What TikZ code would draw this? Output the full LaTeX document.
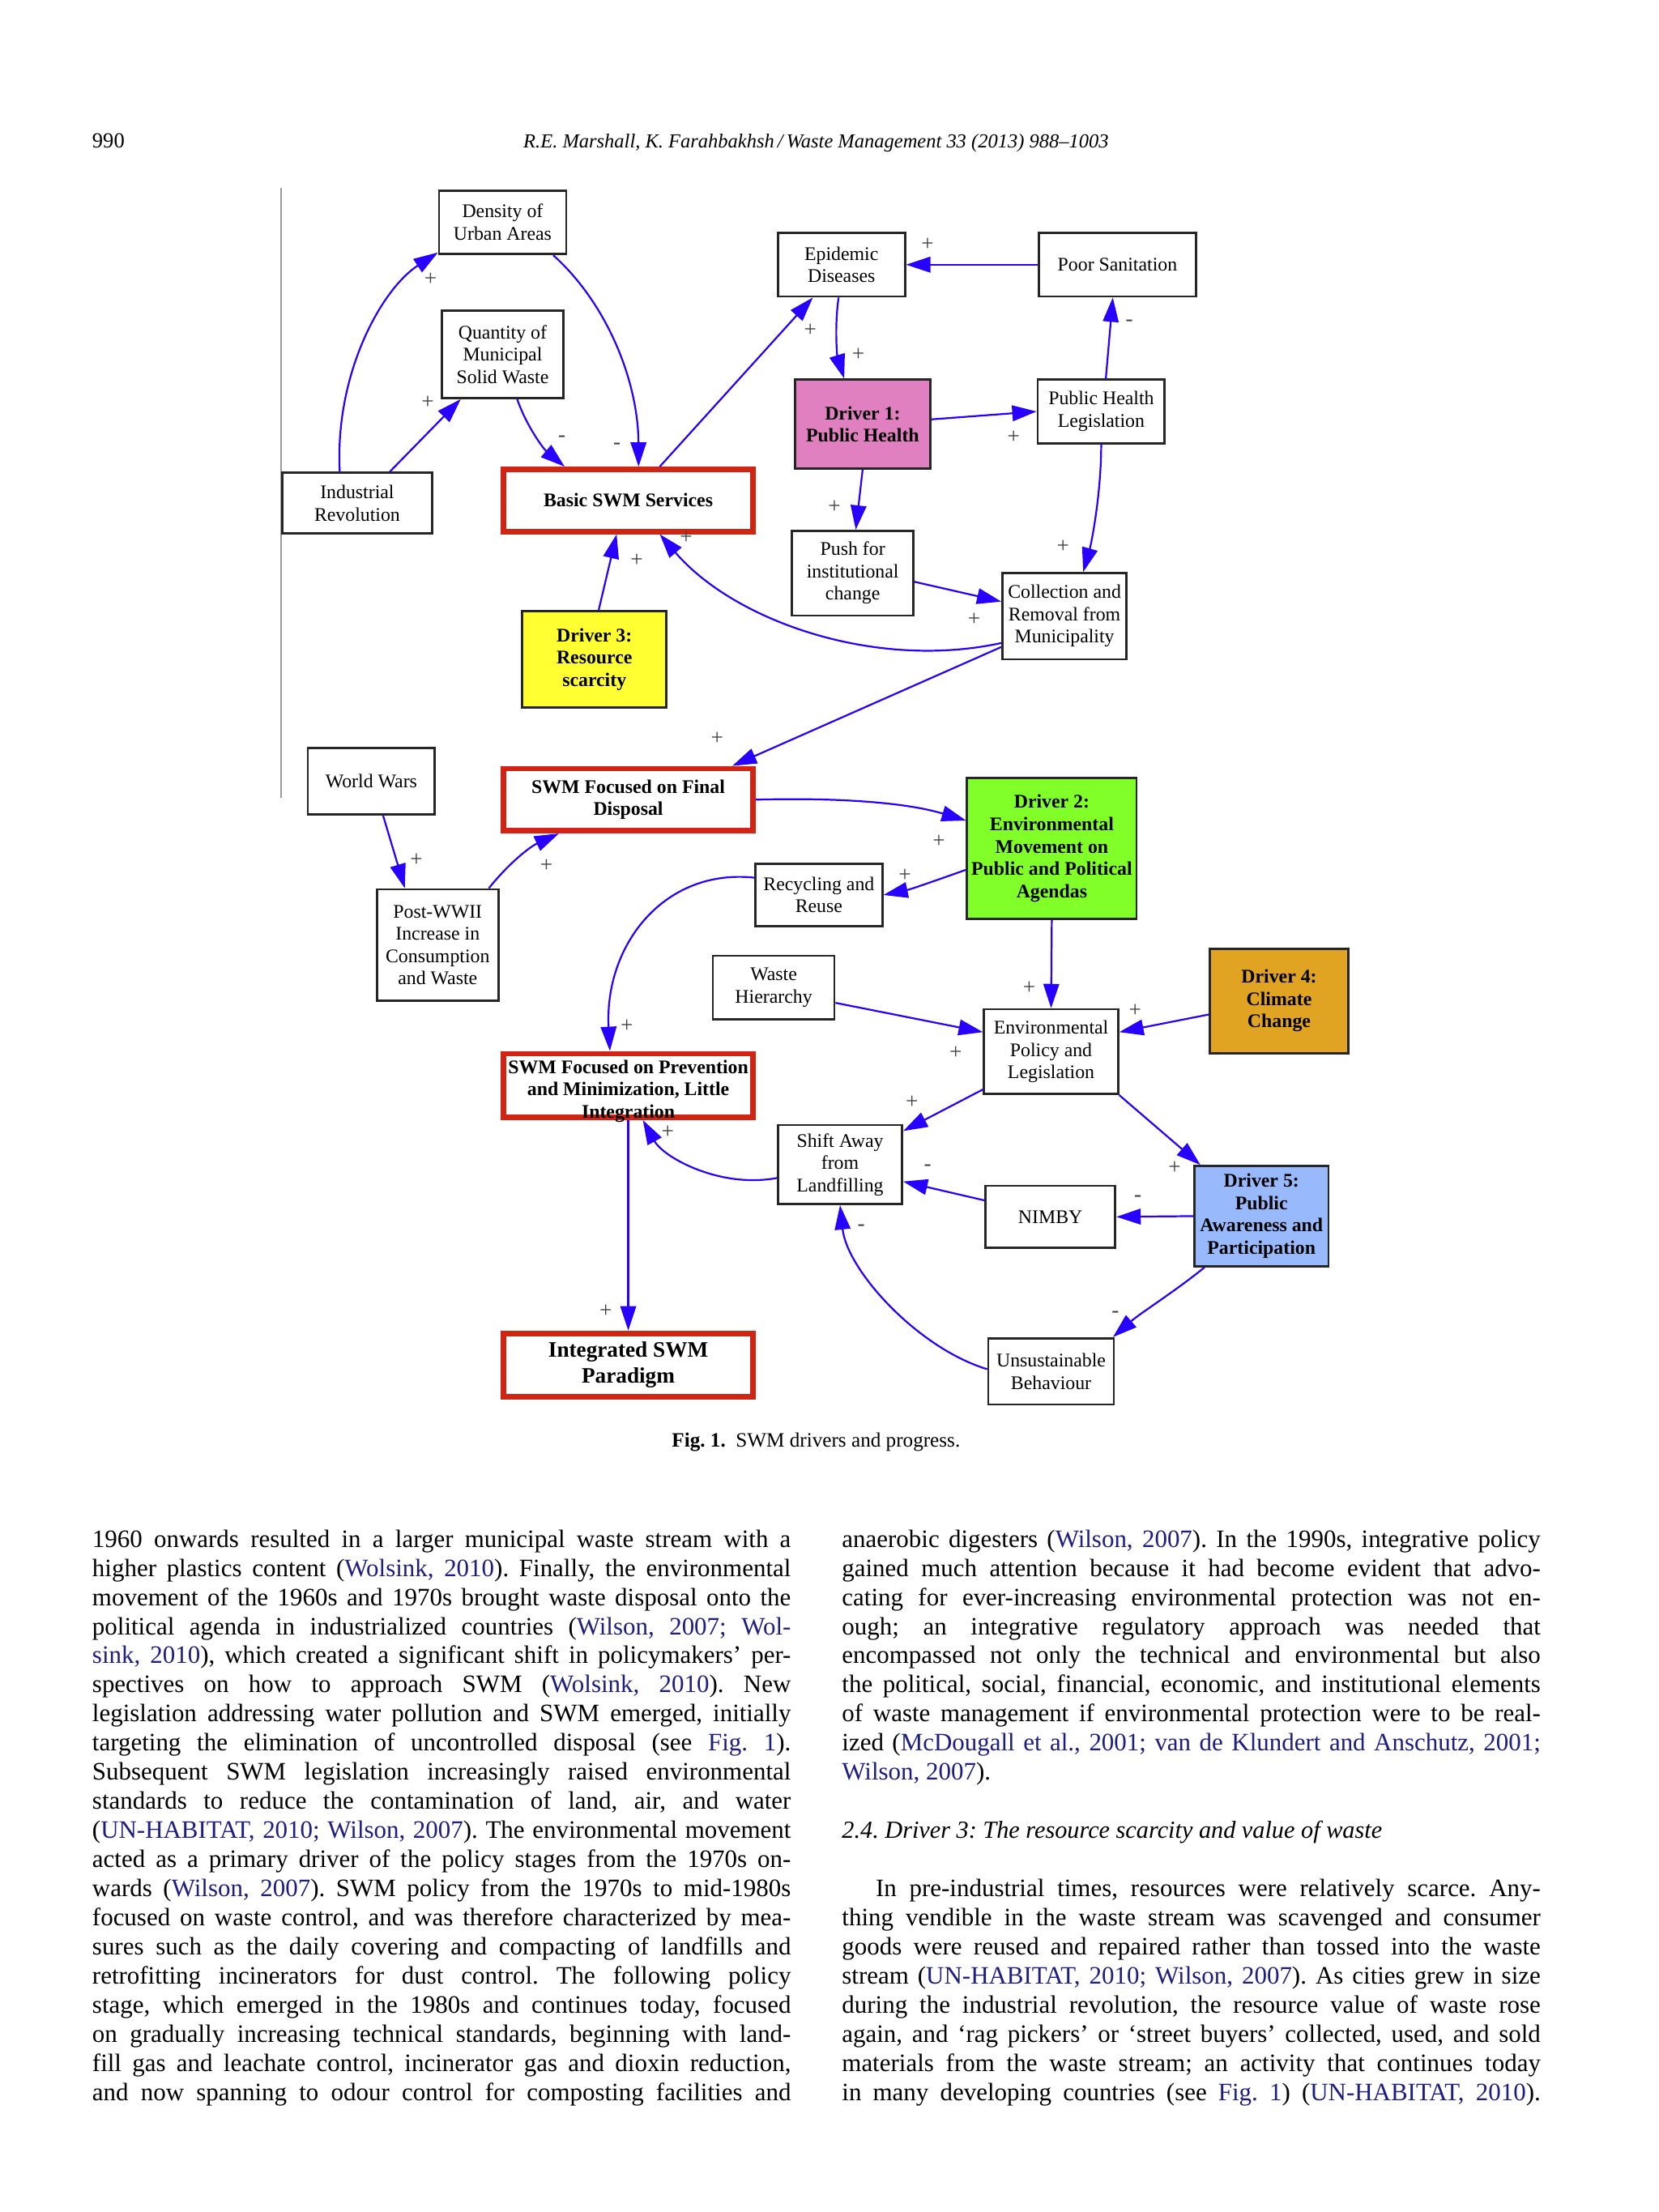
\documentclass[tikz,border=0pt]{standalone}
\usepackage{fontspec}
\setmainfont{Liberation Serif}
\usetikzlibrary{arrows.meta}

\definecolor{lnkblue}{RGB}{40,0,255}
\definecolor{redbox}{RGB}{208,36,20}
\definecolor{drvpink}{RGB}{224,128,192}
\definecolor{drvyellow}{RGB}{255,255,50}
\definecolor{drvgreen}{RGB}{128,255,40}
\definecolor{drvorange}{RGB}{224,164,34}
\definecolor{drvblue}{RGB}{152,186,252}
\definecolor{citeblue}{RGB}{30,30,130}

\newlength{\colw}
\setlength{\colw}{8.91cm}
\newcommand{\jline}[1]{\hbox to \colw{#1}}
\newcommand{\lline}[1]{\hbox to \colw{#1\hfil}}
\newcommand{\cit}[1]{\textcolor{citeblue}{#1}}
\frenchspacing

\tikzset{
	box/.style={draw=black!85, line width=0.8pt, fill=white, align=center, inner sep=1pt, font=\fontsize{7}{8.1}\selectfont},
	driver/.style={box, font=\bfseries\fontsize{7}{8.1}\selectfont},
	stage/.style={box, draw=redbox, line width=2pt, font=\bfseries\fontsize{7}{8.1}\selectfont},
	sz/.style 2 args={minimum width=#1*0.018cm, minimum height=#2*0.018cm},
	lnk/.style={draw=lnkblue, line width=0.65pt, -{Triangle[length=0.31cm, width=0.2cm]}},
	sgn/.style={text=black!75, inner sep=0pt, font=\fontsize{8}{9}\selectfont},
	col/.style={anchor=base west, inner sep=0pt, font=\fontsize{9.1}{10.57}\selectfont}
}

\begin{document}
\begin{tikzpicture}[x=0.018cm, y=-0.018cm]
	\fill[white] (0,0) rectangle (1175,1567);
	\useasboundingbox (0,0) rectangle (1175,1567);

	% Cabecera
		\node[anchor=base west, inner sep=0pt, font=\fontsize{7.8}{9}\selectfont] (pg) at (65,105) {990};
		\node[anchor=base, inner sep=0pt, font=\itshape\fontsize{7.2}{9}\selectfont] (run) at (578,105) {R.E. Marshall, K. Farahbakhsh\,/\,Waste Management 33 (2013) 988–1003};
		\draw[black!40, line width=0.4pt] (199,133) -- (199,565);

	% Cajas
		% Etapa 1
			\node[box, sz={90}{45}] (dens) at (356,157.5) {Density of\\Urban Areas};
			\node[box, sz={86}{62}] (qty) at (356,251) {Quantity of\\Municipal\\Solid Waste};
			\node[box, sz={106}{43}] (ind) at (253,356.5) {Industrial\\Revolution};
			\node[stage, sz={177}{44}] (basic) at (445,354.5) {Basic SWM Services};
			\node[box, sz={90}{45}] (epi) at (596,187.5) {Epidemic\\Diseases};
			\node[box, sz={111}{45}] (poor) at (791.5,187.5) {Poor Sanitation};
			\node[driver, fill=drvpink, sz={96}{63}] (drv1) at (611,300.5) {Driver 1:\\Public Health};
			\node[box, sz={90}{45}] (phl) at (780,291.5) {Public Health\\Legislation};
			\node[box, sz={86}{60}] (push) at (604,406) {Push for\\institutional\\change};
			\node[box, sz={88}{61}] (coll) at (754,436.5) {Collection and\\Removal from\\Municipality};
			\node[driver, fill=drvyellow, sz={102}{68}] (drv3) at (421,467) {Driver 3:\\Resource\\scarcity};
		% Etapa 2
			\node[box, sz={90}{47}] (ww) at (263,553.5) {World Wars};
			\node[stage, sz={177}{44}] (final) at (445,566.5) {SWM Focused on Final\\Disposal};
			\node[driver, fill=drvgreen, sz={120}{100}] (drv2) at (745,601) {Driver 2:\\Environmental\\Movement on\\Public and Political\\Agendas};
			\node[box, sz={90}{44}] (recy) at (580,634) {Recycling and\\Reuse};
			\node[box, sz={86}{79}] (post) at (310,669.5) {Post-WWII\\Increase in\\Consumption\\and Waste};
			\node[box, sz={86}{45}] (hier) at (548,699.5) {Waste\\Hierarchy};
			\node[driver, fill=drvorange, sz={98}{74}] (drv4) at (906,709) {Driver 4:\\Climate\\Change};
			\node[box, sz={95}{60}] (envp) at (744.5,745) {Environmental\\Policy and\\Legislation};
		% Etapa 3
			\node[stage, sz={177}{45}] (prev) at (445,769) {};
			\node[align=center, inner sep=0pt, font=\bfseries\fontsize{7}{8.1}\selectfont] (prevtxt) at (445,773) {SWM Focused on Prevention\\and Minimization, Little\\Integration};
			\node[box, sz={88}{56}] (shift) at (595,825) {Shift Away\\from\\Landfilling};
			\node[box, sz={92}{44}] (nimby) at (744,862) {NIMBY};
			\node[driver, fill=drvblue, sz={95}{71}] (drv5) at (893.5,861.5) {Driver 5:\\Public\\Awareness and\\Participation};
			\node[box, sz={89}{47}] (unsus) at (744.5,971.5) {Unsustainable\\Behaviour};
			\node[stage, sz={177}{45}, font=\bfseries\fontsize{8}{9.3}\selectfont] (integ) at (445,967) {Integrated SWM\\Paradigm};

	% Flechas
		\draw[lnk] (ind.119) .. controls (237,265) and (270,205) .. (dens.205);
		\draw[lnk] (ind.44) -- (qty.227);
		\draw[lnk] (dens.327) .. controls (430,215) and (452,270) .. (basic.73);
		\draw[lnk] (qty.288) .. controls (373,302) and (385,318) .. (basic.152);
		\draw[lnk] (basic.47) -- (epi.229);
		\draw[lnk] (poor.west) -- (epi.east);
		\draw[lnk] (epi.265) .. controls (591,232) and (593,252) .. (drv1.112);
		\draw[lnk] (drv1.4) -- (phl.west);
		\draw[lnk] (phl.82) -- (poor.262);
		\draw[lnk] (drv1.south) -- (push.86);
		\draw[lnk] (phl.south) .. controls (780,350) and (773,385) .. (coll.67);
		\draw[lnk] (push.352) -- (coll.167);
		\draw[lnk] (coll.203) .. controls (620,475) and (520,440) .. (basic.313);
		\draw[lnk] (drv3.85) -- (basic.251);
		\draw[lnk] (coll.206) -- (final.18);
		\draw[lnk] (ww.289) -- (post.120);
		\draw[lnk] (post.48) .. controls (360,612) and (375,600) .. (final.206);
		\draw[lnk] (final.east) .. controls (590,565) and (640,568) .. (drv2.162);
		\draw[lnk] (drv2.194) .. controls (665,623) and (645,630) .. (recy.east);
		\draw[lnk] (recy.165) .. controls (470,615) and (428,670) .. (prev.118);
		\draw[lnk] (hier.346) -- (envp.164);
		\draw[lnk] (drv2.south) -- (envp.north);
		\draw[lnk] (drv4.191) -- (envp.16);
		\draw[lnk] (envp.209) -- (shift.28);
		\draw[lnk] (envp.south east) -- (drv5.140);
		\draw[lnk] (drv5.west) -- (nimby.east);
		\draw[lnk] (nimby.166) -- (shift.345);
		\draw[lnk] (drv5.222) .. controls (832,915) and (808,930) .. (unsus.29);
		\draw[lnk] (unsus.178) .. controls (650,955) and (600,900) .. (shift.south);
		\draw[lnk] (shift.192) .. controls (510,842) and (470,820) .. (prev.293);
		\draw[lnk] (prev.south) -- (integ.north);

	% Signos
		\node[sgn] (s1) at (305,198) {+};
		\node[sgn] (s2) at (303,285) {+};
		\node[sgn] (s3) at (437,316) {-};
		\node[sgn] (s4) at (398,311) {-};
		\node[sgn] (s5) at (574,234) {+};
		\node[sgn] (s6) at (657,173) {+};
		\node[sgn] (s7) at (608,251) {+};
		\node[sgn] (s8) at (718,310) {+};
		\node[sgn] (s9) at (800,229) {-};
		\node[sgn] (s10) at (591,359) {+};
		\node[sgn] (s11) at (753,387) {+};
		\node[sgn] (s12) at (690,439) {+};
		\node[sgn] (s13) at (486,381) {+};
		\node[sgn] (s14) at (451,397) {+};
		\node[sgn] (s15) at (508,523) {+};
		\node[sgn] (s16) at (295,609) {+};
		\node[sgn] (s17) at (387,613) {+};
		\node[sgn] (s18) at (665,596) {+};
		\node[sgn] (s19) at (641,620) {+};
		\node[sgn] (s20) at (444,727) {+};
		\node[sgn] (s21) at (677,746) {+};
		\node[sgn] (s22) at (729,700) {+};
		\node[sgn] (s23) at (804,716) {+};
		\node[sgn] (s24) at (646,781) {+};
		\node[sgn] (s25) at (832,827) {+};
		\node[sgn] (s26) at (806,849) {-};
		\node[sgn] (s27) at (657,827) {-};
		\node[sgn] (s28) at (790,931) {-};
		\node[sgn] (s29) at (610,870) {-};
		\node[sgn] (s30) at (473,802) {+};
		\node[sgn] (s31) at (429,929) {+};

	% Pie de figura
		\node[anchor=base, inner sep=0pt, font=\fontsize{7.4}{9}\selectfont] (cap) at (578,1025) {\textbf{Fig. 1.}\enspace SWM drivers and progress.};

	% Texto
		\node[col] (lcol) at (65,1096) {\vtop{%
			\jline{1960 onwards resulted in a larger municipal waste stream with a}
			\jline{higher plastics content (\cit{Wolsink, 2010}). Finally, the environmental}
			\jline{movement of the 1960s and 1970s brought waste disposal onto the}
			\jline{political agenda in industrialized countries (\cit{Wilson, 2007; Wol-}}
			\jline{\cit{sink, 2010}), which created a significant shift in policymakers’ per-}
			\jline{spectives on how to approach SWM (\cit{Wolsink, 2010}). New}
			\jline{legislation addressing water pollution and SWM emerged, initially}
			\jline{targeting the elimination of uncontrolled disposal (see \cit{Fig. 1}).}
			\jline{Subsequent SWM legislation increasingly raised environmental}
			\jline{standards to reduce the contamination of land, air, and water}
			\jline{(\cit{UN-HABITAT, 2010; Wilson, 2007}). The environmental movement}
			\jline{acted as a primary driver of the policy stages from the 1970s on-}
			\jline{wards (\cit{Wilson, 2007}). SWM policy from the 1970s to mid-1980s}
			\jline{focused on waste control, and was therefore characterized by mea-}
			\jline{sures such as the daily covering and compacting of landfills and}
			\jline{retrofitting incinerators for dust control. The following policy}
			\jline{stage, which emerged in the 1980s and continues today, focused}
			\jline{on gradually increasing technical standards, beginning with land-}
			\jline{fill gas and leachate control, incinerator gas and dioxin reduction,}
			\jline{and now spanning to odour control for composting facilities and}}};
		\node[col] (rcol) at (596,1096) {\vtop{%
			\jline{anaerobic digesters (\cit{Wilson, 2007}). In the 1990s, integrative policy}
			\jline{gained much attention because it had become evident that advo-}
			\jline{cating for ever-increasing environmental protection was not en-}
			\jline{ough; an integrative regulatory approach was needed that}
			\jline{encompassed not only the technical and environmental but also}
			\jline{the political, social, financial, economic, and institutional elements}
			\jline{of waste management if environmental protection were to be real-}
			\jline{ized (\cit{McDougall et al., 2001; van de Klundert and Anschutz, 2001;}}
			\lline{\cit{Wilson, 2007}).}
			\hbox{}
			\lline{\itshape\fontsize{8.9}{10.57}\selectfont 2.4. Driver 3: The resource scarcity and value of waste}
			\hbox{}
			\jline{\hskip 0.43cm In pre-industrial times, resources were relatively scarce. Any-}
			\jline{thing vendible in the waste stream was scavenged and consumer}
			\jline{goods were reused and repaired rather than tossed into the waste}
			\jline{stream (\cit{UN-HABITAT, 2010; Wilson, 2007}). As cities grew in size}
			\jline{during the industrial revolution, the resource value of waste rose}
			\jline{again, and ‘rag pickers’ or ‘street buyers’ collected, used, and sold}
			\jline{materials from the waste stream; an activity that continues today}
			\jline{in many developing countries (see \cit{Fig. 1}) (\cit{UN-HABITAT, 2010}).}}};
\end{tikzpicture}
\end{document}
